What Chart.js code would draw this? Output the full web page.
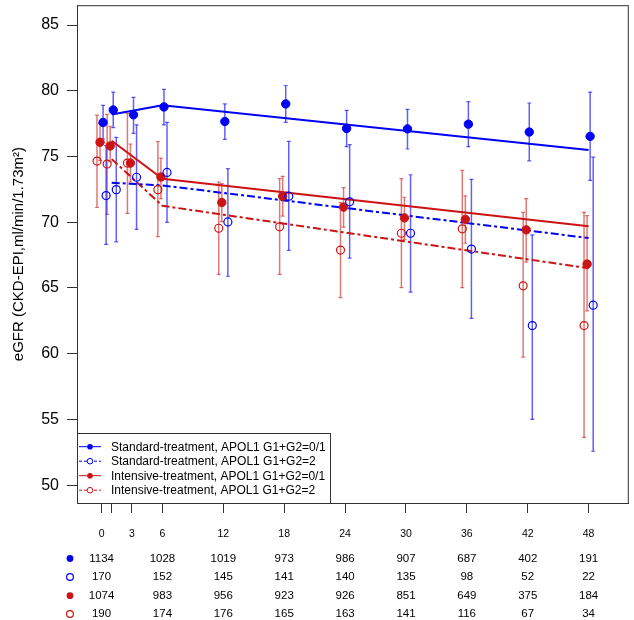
<!DOCTYPE html>
<html><head><meta charset="utf-8">
<script src="https://cdn.jsdelivr.net/npm/chart.js@4.4.1/dist/chart.umd.min.js"></script>
<style>html,body{margin:0;padding:0;background:#fff}#wrap{width:634px;height:620px}</style>
</head><body><div id="wrap"><canvas id="c" width="634" height="620"></canvas></div>
<script>
// ---- data ----
const months = [0, 1, 3, 6, 12, 18, 24, 30, 36, 42, 48];
const tickMonths = [0, 1, 3, 6, 12, 18, 24, 30, 36, 42, 48];
const yTicks = [50, 55, 60, 65, 70, 75, 80, 85];
const seriesNames = [
  "Standard-treatment, APOL1 G1+G2=0/1",
  "Standard-treatment, APOL1 G1+G2=2",
  "Intensive-treatment, APOL1 G1+G2=0/1",
  "Intensive-treatment, APOL1 G1+G2=2"
];
const std01Mean = [77.59, 78.54, 78.17, 78.77, 77.66, 79.0, 77.13, 77.1, 77.46, 76.86, 76.53];
const std01Lo   = [76.33, 77.2, 76.76, 77.4, 76.3, 77.59, 75.75, 75.57, 75.75, 74.67, 73.19];
const std01Hi   = [78.89, 79.9, 79.5, 80.1, 79.0, 80.4, 78.51, 78.59, 79.17, 79.07, 79.9];
const std2Mean  = [72.03, 72.48, 73.42, 73.79, 70.02, 71.98, 71.55, 69.16, 67.96, 62.14, 63.69];
const std2Lo    = [68.31, 68.51, 69.46, 69.99, 65.89, 67.86, 67.27, 64.69, 62.68, 55.0, 52.58];
const std2Hi    = [75.83, 76.46, 77.41, 77.59, 74.07, 76.15, 75.9, 73.61, 73.26, 69.04, 74.95];
const int01Mean = [76.08, 75.8, 74.5, 73.44, 71.5, 71.98, 71.15, 70.33, 70.22, 69.42, 66.82];
const int01Lo   = [74.7, 74.6, 73.06, 71.8, 70.05, 70.47, 69.62, 68.7, 68.4, 66.97, 63.26];
const int01Hi   = [77.5, 77.3, 75.95, 74.87, 72.93, 73.49, 72.63, 71.9, 72.0, 71.8, 70.5];
const int2Mean  = [74.65, 74.42, 74.5, 72.48, 69.54, 69.65, 67.88, 69.16, 69.5, 65.16, 62.14];
const int2Lo    = [71.12, 70.6, 70.67, 68.91, 66.03, 66.03, 64.27, 65.02, 65.02, 59.74, 53.63];
const int2Hi    = [78.14, 78.2, 78.27, 76.13, 73.06, 73.31, 71.5, 73.31, 73.94, 70.75, 70.75];
const fitMonths = [1, 6, 48];
const fitStd01 = [78.2, 78.9, 75.5];
const fitStd2  = [73.0, 72.8, 68.8];
const fitInt01 = [76.2, 73.3, 69.7];
const fitInt2  = [74.8, 71.25, 66.5];
const tableMonths = [0, 6, 12, 18, 24, 30, 36, 42, 48];
const nStd01 = [1134, 1028, 1019, 973, 986, 907, 687, 402, 191];
const nStd2  = [170, 152, 145, 141, 140, 135, 98, 52, 22];
const nInt01 = [1074, 983, 956, 923, 926, 851, 649, 375, 184];
const nInt2  = [190, 174, 176, 165, 163, 141, 116, 67, 34];

// ---- styling ----
const BLUE = '#0000F5', RED = '#CD1414';
const BLUE_BAR = 'rgba(0,0,245,0.62)', RED_BAR = 'rgba(205,20,20,0.58)';
const FONT = "'Liberation Sans', Arial, sans-serif";
const DASH = [8, 3, 3, 3];
const dodge = { std01: 0.15, std2: 0.45, int01: -0.15, int2: -0.45 };

function pts(xs, ys, off) { return xs.map((m, i) => ({ x: m + off, y: ys[i] })); }
function bars(xs, lo, hi, off) {
  const out = [];
  xs.forEach((m, i) => { out.push({ x: m + off, y: lo[i] }, { x: m + off, y: hi[i] }, { x: m + off, y: null }); });
  return out;
}
const groups = [
  { key: 'std01', mean: std01Mean, lo: std01Lo, hi: std01Hi, fit: fitStd01, col: BLUE, bar: BLUE_BAR, filled: true, dash: [] },
  { key: 'std2', mean: std2Mean, lo: std2Lo, hi: std2Hi, fit: fitStd2, col: BLUE, bar: BLUE_BAR, filled: false, dash: DASH },
  { key: 'int01', mean: int01Mean, lo: int01Lo, hi: int01Hi, fit: fitInt01, col: RED, bar: RED_BAR, filled: true, dash: [] },
  { key: 'int2', mean: int2Mean, lo: int2Lo, hi: int2Hi, fit: fitInt2, col: RED, bar: RED_BAR, filled: false, dash: DASH }
];
const datasets = [];
groups.forEach((g, gi) => {
  datasets.push({
    label: seriesNames[gi] + ' CI', data: bars(months, g.lo, g.hi, dodge[g.key]),
    showLine: true, spanGaps: false, borderColor: g.bar, borderWidth: 1.5,
    pointStyle: 'line', pointRadius: 2, pointBorderColor: g.bar, pointBorderWidth: 1.2,
    pointHoverRadius: 0, order: 3
  });
});
groups.forEach((g, gi) => {
  datasets.push({
    label: seriesNames[gi] + ' fit', data: pts(fitMonths, g.fit, 0),
    showLine: true, borderColor: g.col, borderWidth: 2, borderDash: g.dash,
    pointRadius: 0, tension: 0, order: 2
  });
});
groups.forEach((g, gi) => {
  datasets.push({
    label: seriesNames[gi], data: pts(months, g.mean, dodge[g.key]),
    showLine: false, pointStyle: 'circle',
    pointRadius: g.filled ? 4.2 : 4.0,
    pointBackgroundColor: g.filled ? g.col : 'rgba(0,0,0,0)',
    pointBorderColor: g.col, pointBorderWidth: g.filled ? 1 : 1.2, order: 1
  });
});

const overlay = {
  id: 'overlay',
  afterDraw(chart) {
    const { ctx, chartArea: a, scales: { x } } = chart;
    ctx.save();
    // legend box
    const lx = a.left, ly = 433, lw = 330 - a.left, lh = a.bottom - 433;
    ctx.fillStyle = '#fff'; ctx.fillRect(lx, ly, lw, lh);
    ctx.strokeStyle = '#333'; ctx.lineWidth = 1;
    ctx.strokeRect(lx + 0.5, ly + 0.5, lw, lh);
    const rowsY = [446.7, 461.2, 475.7, 490.2];
    groups.forEach((g, i) => {
      const y = rowsY[i];
      ctx.strokeStyle = g.col; ctx.lineWidth = 1;
      ctx.setLineDash(g.filled ? [] : [3, 2]);
      ctx.beginPath(); ctx.moveTo(79, y); ctx.lineTo(101, y); ctx.stroke();
      ctx.setLineDash([]);
      ctx.beginPath(); ctx.arc(90, y, 2.8, 0, Math.PI * 2);
      if (g.filled) { ctx.fillStyle = g.col; ctx.fill(); } else { ctx.fillStyle = '#fff'; ctx.fill(); ctx.stroke(); }
      ctx.fillStyle = '#000'; ctx.font = '12px ' + FONT;
      ctx.textAlign = 'left'; ctx.textBaseline = 'middle';
      ctx.fillText(seriesNames[i], 111, y + 0.5);
    });
    // plot box
    ctx.strokeStyle = '#333'; ctx.lineWidth = 1;
    ctx.strokeRect(a.left + 0.5, a.top + 0.5, a.right - a.left - 1, a.bottom - a.top);
    // number-at-risk table
    const tables = [nStd01, nStd2, nInt01, nInt2];
    const tY = [558.5, 577, 595.7, 614];
    ctx.font = '11.5px ' + FONT; ctx.textAlign = 'center'; ctx.textBaseline = 'middle';
    tables.forEach((row, i) => {
      const g = groups[i];
      ctx.beginPath(); ctx.arc(70, tY[i], 3.4, 0, Math.PI * 2);
      if (g.filled) { ctx.fillStyle = g.col; ctx.fill(); }
      else { ctx.strokeStyle = g.col; ctx.lineWidth = 1.2; ctx.stroke(); }
      ctx.fillStyle = '#000';
      row.forEach((n, j) => ctx.fillText(String(n), x.getPixelForValue(tableMonths[j]), tY[i]));
    });
    ctx.restore();
  }
};

new Chart(document.getElementById('c'), {
  type: 'scatter',
  data: { datasets },
  plugins: [overlay],
  options: {
    responsive: false, animation: false, devicePixelRatio: 1,
    layout: { padding: { top: 1, right: 3, left: 0, bottom: 0 } },
    plugins: { legend: { display: false }, tooltip: { enabled: false } },
    events: [],
    scales: {
      x: {
        type: 'linear', position: 'bottom', min: -2.42, max: 51.96,
        afterBuildTicks: s => { s.ticks = tickMonths.map(v => ({ value: v })); },
        ticks: { callback: v => (v === 1 ? '' : String(v)), font: { size: 10.5, family: FONT }, color: '#000', padding: 15, maxRotation: 0, autoSkip: false },
        grid: { drawOnChartArea: false, drawTicks: true, tickLength: 10, color: '#333', tickWidth: 1 },
        border: { display: true, color: '#333' },
        afterFit: s => { s.height = 117; s.paddingLeft = 0; s.paddingRight = 0; }
      },
      y: {
        type: 'linear', position: 'left', min: 48.642, max: 86.509,
        afterBuildTicks: s => { s.ticks = yTicks.map(v => ({ value: v })); },
        ticks: { font: { size: 16, family: FONT }, color: '#000', padding: 8 },
        grid: { drawOnChartArea: false, drawTicks: true, tickLength: 10, color: '#333' },
        border: { display: true, color: '#333' },
        title: { display: true, text: 'eGFR (CKD-EPI,ml/min/1.73m²)', font: { size: 15, family: FONT }, color: '#000', padding: { top: 10, bottom: 0 } },
        afterFit: s => { s.width = 77; s.paddingTop = 0; s.paddingBottom = 0; }
      }
    }
  }
});
</script></body></html>
